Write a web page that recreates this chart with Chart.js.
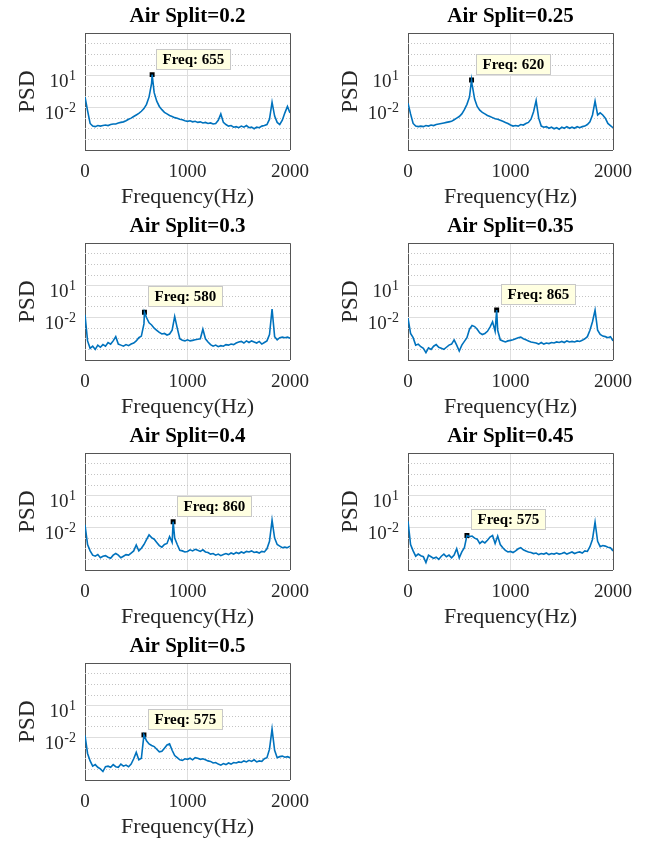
<!DOCTYPE html>
<html>
<head>
<meta charset="utf-8">
<script src="https://cdn.jsdelivr.net/npm/chart.js@4.4.1/dist/chart.umd.min.js"></script>
<style>
  body { margin: 0; background: #fff; }
  #fig { position: relative; width: 651px; height: 841px; }
  #fig canvas { position: absolute; }
</style>
</head>
<body>
<div id="fig"></div>
<script>
// frequency grid (Hz) shared by every panel
const freqHz = [0, 25, 50, 75, 100, 125, 150, 175, 200, 225, 250, 275, 300, 325, 350, 375, 400, 425, 450, 475,
  500, 525, 550, 575, 600, 625, 650, 675, 700, 725, 750, 775, 800, 825, 850, 875, 900, 925, 950, 975,
  1000, 1025, 1050, 1075, 1100, 1125, 1150, 1175, 1200, 1225, 1250, 1275, 1300, 1325, 1350, 1375, 1400, 1425, 1450, 1475,
  1500, 1525, 1550, 1575, 1600, 1625, 1650, 1675, 1700, 1725, 1750, 1775, 1800, 1825, 1850, 1875, 1900, 1925, 1950, 1975, 2000]

const airSplit = ['0.2', '0.25', '0.3', '0.35', '0.4', '0.45', '0.5']

// datatip peaks
const peakFreq = [655, 620, 580, 865, 860, 575, 575]
const peakLogPsd = [1.1, 0.6, -1.5, -1.3, -1.45, -2.75, -1.75]

// log10(PSD), one value per freqHz entry
const logPsd02 = [-1.0, -2.3, -3.5, -3.75, -3.8, -3.7, -3.75, -3.7, -3.65, -3.7,
  -3.6, -3.55, -3.55, -3.45, -3.4, -3.35, -3.25, -3.1, -3.0, -2.85,
  -2.7, -2.55, -2.35, -2.1, -1.7, -1.0, 0.3, -0.6, -1.4, -1.9,
  -2.2, -2.45, -2.6, -2.75, -2.85, -2.95, -3.0, -3.1, -3.15, -3.25,
  -3.3, -3.25, -3.35, -3.3, -3.4, -3.35, -3.45, -3.4, -3.5, -3.45,
  -3.55, -3.5, -3.2, -2.6, -3.4, -3.6, -3.75, -3.7, -3.85, -3.8,
  -3.9, -3.75, -3.85, -3.7, -3.9, -3.85, -4.0, -3.85, -3.9, -3.75,
  -3.7, -3.6, -3.1, -1.5, -2.8, -3.4, -3.6, -3.2, -2.5, -1.9,
  -2.5]
const logPsd025 = [-1.6, -2.6, -3.5, -3.75, -3.8, -3.75, -3.8, -3.7, -3.75, -3.65,
  -3.7, -3.6, -3.55, -3.5, -3.45, -3.4, -3.35, -3.3, -3.15, -3.0,
  -2.85, -2.6, -2.2, -1.7, -1.0, 0.2, -1.2, -1.9, -2.25, -2.45,
  -2.6, -2.75, -2.85, -2.95, -3.05, -3.1, -3.2, -3.3, -3.4, -3.5,
  -3.65, -3.75, -3.7, -3.75, -3.6, -3.65, -3.5, -3.4, -3.1, -2.4,
  -1.35, -3.0, -3.75, -3.85, -3.8, -3.95, -3.85, -4.0, -3.9, -4.05,
  -3.85, -3.95, -3.8, -3.95, -3.85, -3.95, -3.8, -3.9, -3.8, -3.75,
  -3.6, -3.35, -2.7, -1.4, -2.7, -2.5, -2.7, -3.0, -3.5, -3.7,
  -3.9]
const logPsd03 = [-1.75, -4.2, -4.9, -4.7, -5.0, -4.6, -4.8, -4.55, -4.7, -4.35,
  -4.5, -4.2, -3.8, -4.5, -4.6, -4.7, -4.55, -4.65, -4.5, -4.4,
  -4.2, -3.9, -3.75, -2.6, -2.0, -2.5, -2.7, -3.0, -3.2, -3.4,
  -3.55, -3.5, -3.65, -3.55, -3.2, -1.9, -3.0, -4.0, -4.15, -4.2,
  -4.1, -4.2, -4.15, -4.1, -4.05, -4.0, -3.1, -4.0, -4.3, -4.55,
  -4.7, -4.6, -4.75, -4.65, -4.7, -4.55, -4.6, -4.5, -4.55, -4.4,
  -4.3, -4.25, -4.4, -4.2, -4.35, -4.2, -4.3, -4.4, -4.25, -4.5,
  -4.35, -4.2, -3.6, -1.2, -3.8, -4.1, -3.9, -3.85, -3.9, -3.85,
  -3.95]
const logPsd035 = [-2.05, -3.5, -3.9, -4.6, -4.5, -4.75, -4.9, -5.3, -4.85, -5.0,
  -4.7, -4.55, -4.8, -4.9, -5.0, -4.8, -4.6, -4.5, -4.1, -4.6,
  -5.15, -4.6, -4.25, -3.9, -3.1, -2.75, -2.85, -3.1, -3.45, -3.6,
  -3.5, -3.3, -2.9, -2.4, -3.3, -3.2, -4.1, -4.2, -4.3, -4.2,
  -4.15, -4.1, -4.0, -3.9, -3.85, -4.0, -4.1, -4.2, -4.3, -4.35,
  -4.4, -4.5, -4.35, -4.5, -4.4, -4.45, -4.35, -4.4, -4.3, -4.35,
  -4.25, -4.35, -4.2, -4.3, -4.25, -4.3, -4.2, -4.25, -4.15, -4.0,
  -3.8, -3.2, -2.4, -1.3, -3.2, -3.6, -3.75, -3.8, -3.9, -3.8,
  -4.2]
const logPsd04 = [-1.75, -3.6, -4.2, -4.6, -4.7, -4.55, -4.85, -4.7, -4.65, -4.8,
  -4.9, -4.6, -4.45, -4.6, -4.85, -4.7, -4.55, -4.6, -4.4, -4.2,
  -3.65, -4.2, -3.95, -3.6, -3.15, -2.7, -2.95, -3.1, -3.4, -3.7,
  -3.85, -3.6, -3.5, -2.85, -3.4, -3.0, -3.6, -4.15, -4.2, -4.3,
  -4.25, -4.1, -4.2, -4.05, -4.15, -4.25, -4.1, -4.3, -4.35, -4.5,
  -4.45, -4.6, -4.5, -4.65, -4.55, -4.45, -4.55, -4.4, -4.5, -4.35,
  -4.45, -4.3, -4.4, -4.25, -4.3, -4.2, -4.35, -4.3, -4.4, -4.25,
  -4.3, -4.0, -3.3, -1.3, -3.0, -3.6, -3.75, -3.9, -3.85, -3.9,
  -3.75]
const logPsd045 = [-1.4, -3.6, -4.2, -4.7, -4.5, -4.65, -4.75, -5.3, -4.6, -4.75,
  -4.9, -4.8, -5.0, -4.7, -4.5, -4.75, -4.6, -4.85, -4.6, -4.0,
  -4.85, -4.3, -3.9, -2.75, -2.85, -2.8, -3.0, -3.1, -3.5, -3.3,
  -3.45, -3.2, -2.9, -2.75, -3.5, -2.8, -3.6, -3.9, -4.15, -4.3,
  -4.25, -4.35, -4.2, -4.0, -3.9, -4.1, -4.2, -4.3, -4.35, -4.45,
  -4.4, -4.55, -4.45, -4.5, -4.4, -4.55, -4.45, -4.5, -4.4, -4.5,
  -4.45, -4.35, -4.5, -4.4, -4.3, -4.45, -4.35, -4.3, -4.4, -4.2,
  -4.25, -3.8, -3.1, -1.5, -3.3, -3.8, -3.7, -3.75, -3.85, -3.9,
  -4.2]
const logPsd05 = [-1.8, -3.5, -4.2, -4.7, -4.55, -4.8, -4.95, -5.2, -4.75, -4.7,
  -4.8, -4.55, -4.75, -4.8, -4.5, -4.7, -4.6, -4.75, -4.5, -4.0,
  -3.4, -4.1, -3.95, -1.75, -2.3, -2.6, -2.75, -2.85, -3.1, -3.35,
  -3.3, -3.0, -2.7, -2.6, -3.2, -3.7, -3.9, -4.1, -4.15, -4.0,
  -4.05, -3.95, -4.1, -3.9, -3.95, -4.05, -4.0, -4.1, -4.2, -4.25,
  -4.4, -4.35, -4.5, -4.6, -4.45, -4.55, -4.4, -4.5, -4.35, -4.4,
  -4.3, -4.35, -4.2, -4.3, -4.15, -4.25, -4.1, -4.3, -4.2, -4.25,
  -4.0, -3.9, -3.1, -1.2, -3.2, -3.9, -3.8, -3.75, -3.85, -3.8,
  -3.9]
const logPsdSeries = [logPsd02, logPsd025, logPsd03, logPsd035, logPsd04, logPsd045, logPsd05]

// axis ticks
const xTicks = [0, 1000, 2000]
const yDecades = [1e-6, 1e-5, 1e-4, 1e-3, 1e-2, 1e-1, 1e0, 1e1, 1e2, 1e3, 1e4, 1e5]
const yLabelled = [1e-2, 1e1]
const yLabelExp = ['-2', '1']

const serif = "'Liberation Serif', 'Times New Roman', Times, serif"
const textColor = '#262626'
const boxColor = '#555555'
const majorGrid = '#dedede'
const minorGrid = '#c4c4c4'

const isEdgeY = v => v === yDecades[0] || v === yDecades[yDecades.length - 1]
const isLabelledY = v => yLabelled.includes(v)

// y tick labels as 10 with a raised exponent
const logTickPlugin = {
  id: 'logTicks',
  afterDraw(chart) {
    const { ctx, chartArea, scales: { y } } = chart
    const right = chartArea.left - 9
    ctx.save()
    ctx.fillStyle = textColor
    ctx.textAlign = 'right'
    ctx.textBaseline = 'alphabetic'
    yLabelled.forEach((v, i) => {
      const py = y.getPixelForValue(v)
      ctx.font = '14px ' + serif
      const sw = ctx.measureText(yLabelExp[i]).width
      ctx.fillText(yLabelExp[i], right, py + 4)
      ctx.font = '19px ' + serif
      ctx.fillText('10', right - sw - 0.5, py + 11.5)
    })
    ctx.restore()
  }
}

// MATLAB-like datatip box next to the marked peak
const datatipPlugin = {
  id: 'datatip',
  afterDatasetsDraw(chart, args, opts) {
    const { ctx, scales: { x, y } } = chart
    const px = x.getPixelForValue(opts.freq)
    const py = y.getPixelForValue(opts.value)
    const text = 'Freq: ' + opts.freq
    ctx.save()
    ctx.font = 'bold 15px ' + serif
    const w = Math.round(ctx.measureText(text).width + 12)
    const h = 20
    const left = Math.round(px + 4) + 0.5
    const top = Math.round(py - 6 - h) + 0.5
    ctx.fillStyle = '#ffffe1'
    ctx.strokeStyle = '#c8c8c8'
    ctx.lineWidth = 1
    ctx.fillRect(left, top, w, h)
    ctx.strokeRect(left, top, w, h)
    ctx.fillStyle = '#000'
    ctx.textAlign = 'left'
    ctx.textBaseline = 'middle'
    ctx.fillText(text, left + 6, top + h / 2 + 1)
    ctx.restore()
  }
}

function seriesPoints(logs, pf, pl) {
  const pts = []
  freqHz.forEach((f, i) => {
    if (f !== pf) pts.push({ x: f, y: 10 ** logs[i] })
  })
  pts.push({ x: pf, y: 10 ** pl })
  pts.sort((a, b) => a.x - b.x)
  return pts
}

const fig = document.getElementById('fig')

airSplit.forEach((split, i) => {
  const canvas = document.createElement('canvas')
  canvas.width = 325
  canvas.height = 210
  canvas.style.left = (i % 2 ? 323 : 0) + 'px'
  canvas.style.top = Math.floor(i / 2) * 210 + 'px'
  fig.appendChild(canvas)

  const peakValue = 10 ** peakLogPsd[i]

  new Chart(canvas, {
    type: 'line',
    data: {
      datasets: [
        {
          data: seriesPoints(logPsdSeries[i], peakFreq[i], peakLogPsd[i]),
          borderColor: '#0072bd',
          borderWidth: 1.6,
          pointRadius: 0,
          tension: 0,
          fill: false,
        },
        {
          data: [{ x: peakFreq[i], y: peakValue }],
          showLine: false,
          pointStyle: 'rect',
          pointRadius: 3.5,
          backgroundColor: '#000',
          borderColor: '#000',
          borderWidth: 0,
        },
      ],
    },
    options: {
      responsive: false,
      devicePixelRatio: 1,
      animation: false,
      layout: { padding: { left: 0, right: 35, top: 0, bottom: 0 } },
      plugins: {
        legend: { display: false },
        tooltip: { enabled: false },
        title: {
          display: true,
          text: 'Air Split=' + split,
          fullSize: false,
          color: '#000',
          font: { family: serif, size: 21, weight: 'bold' },
          padding: { top: 4, bottom: 4 },
        },
        datatip: { freq: peakFreq[i], value: peakValue },
      },
      scales: {
        x: {
          type: 'linear',
          min: 0,
          max: 2000,
          afterBuildTicks: s => { s.ticks = xTicks.map(v => ({ value: v })) },
          afterFit: s => { s.height = 60 },
          grid: {
            drawTicks: false,
            color: c => (c.tick && (c.tick.value === 0 || c.tick.value === 2000)) ? boxColor : majorGrid,
          },
          border: { display: false },
          ticks: {
            padding: 11,
            color: textColor,
            maxRotation: 0,
            autoSkip: false,
            font: { family: serif, size: 19 },
            callback: v => String(v),
          },
          title: {
            display: true,
            text: 'Frequency(Hz)',
            color: textColor,
            font: { family: serif, size: 22 },
            padding: { top: 0, bottom: 0 },
          },
        },
        y: {
          type: 'logarithmic',
          min: 1e-6,
          max: 1e5,
          afterBuildTicks: s => { s.ticks = yDecades.map(v => ({ value: v })) },
          afterFit: s => { s.width = 85 },
          grid: {
            drawTicks: false,
            color: c => {
              if (!c.tick) return majorGrid
              if (isEdgeY(c.tick.value)) return boxColor
              return isLabelledY(c.tick.value) ? majorGrid : minorGrid
            },
          },
          border: {
            display: false,
            dash: c => (c.tick && !isEdgeY(c.tick.value) && !isLabelledY(c.tick.value)) ? [1, 2] : [],
          },
          ticks: { display: false },
          title: {
            display: true,
            text: 'PSD',
            color: textColor,
            font: { family: serif, size: 23 },
            padding: { top: 14, bottom: 0 },
          },
        },
      },
    },
    plugins: [logTickPlugin, datatipPlugin],
  })
})
</script>
</body>
</html>
